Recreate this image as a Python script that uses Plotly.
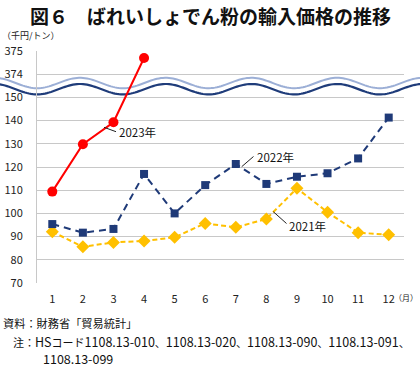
import math
import plotly.graph_objects as go

# ---------------- data ----------------
months = list(range(1, 13))
month_labels = [str(m) for m in months]
y2021 = [92.1, 85.6, 87.5, 88.1, 89.7, 95.7, 94.0, 97.6, 110.8, 100.5, 91.7, 90.8]
y2022 = [95.4, 91.7, 93.3, 117.0, 100.0, 112.2, 121.3, 112.7, 115.8, 117.3, 123.7, 141.3]
y2023 = [109.4, 129.8, 139.3, 374.7]
y_tick_values = [70, 80, 90, 100, 110, 120, 130, 140, 150, 374, 375]
y_tick_labels = ["70", "80", "90", "100", "110", "120", "130", "140", "150", "374", "375"]
hs_codes = ["1108.13-010", "1108.13-020", "1108.13-090", "1108.13-091", "1108.13-099"]

# ---------------- layout geometry ----------------
FW, FH = 420, 368
L, R, T, B = 37, 16, 51, 85
PW = FW - L - R
PH = FH - T - B


def to_pos(v):
    """Broken axis: 70..150 linear, then 374..375 above the break."""
    if v <= 150:
        return (v - 70) / 10.0
    return 9 + (v - 374)


def px(x):
    return (x - L) / PW


def py(y):
    return (FH - B - y) / PH


fig = go.Figure()

fig.add_trace(go.Scatter(
    x=months, y=[to_pos(v) for v in y2021], mode="lines+markers",
    line=dict(color="#FFC000", width=2, dash="5px,3px"),
    marker=dict(symbol="diamond", size=10, color="#FFC000"),
    name="2021年", hoverinfo="skip"))
fig.add_trace(go.Scatter(
    x=months, y=[to_pos(v) for v in y2022], mode="lines+markers",
    line=dict(color="#1F3A78", width=2, dash="7px,5px"),
    marker=dict(symbol="square", size=8, color="#1F3A78"),
    name="2022年", hoverinfo="skip"))
fig.add_trace(go.Scatter(
    x=months[:len(y2023)], y=[to_pos(v) for v in y2023], mode="lines+markers",
    line=dict(color="#FF0000", width=2),
    marker=dict(symbol="circle", size=10, color="#FF0000"),
    name="2023年", hoverinfo="skip"))

# ---------------- break wave ----------------
P = 85.7
A = 5.2
def wave_pts(center):
    pts = []
    x = -5.0
    while x <= FW + 5:
        y = center - A * math.cos(2 * math.pi * (x - 80) / P)
        pts.append((x, y))
        x += 2.0
    return pts

light = wave_pts(83.0)
dark = wave_pts(89.2)

def path_of(pts):
    return "M " + " L ".join(f"{px(a):.5f},{py(b):.5f}" for a, b in pts)

band = path_of(light) + " L " + " L ".join(
    f"{px(a):.5f},{py(b):.5f}" for a, b in reversed(dark)) + " Z"

shapes = [
    dict(type="path", path=band, xref="paper", yref="paper",
         fillcolor="white", line=dict(width=0), layer="below"),
    dict(type="path", path=path_of(light), xref="paper", yref="paper",
         line=dict(color="#9CAFD6", width=2), layer="below"),
    dict(type="path", path=path_of(dark), xref="paper", yref="paper",
         line=dict(color="#1F3C7A", width=2.2), layer="below"),
]

# leader lines for series labels
for (x0, y0, x1, y1) in [(104, 127.3, 116, 131.7),
                         (241.7, 166.7, 253.5, 156.5),
                         (273.3, 211.7, 286.5, 223.5)]:
    shapes.append(dict(type="line", xref="paper", yref="paper",
                       x0=px(x0), y0=py(y0), x1=px(x1), y1=py(y1),
                       line=dict(color="#222222", width=1)))

JP = "Noto Sans CJK JP"


def num(s):
    return f"<span style='font-size:12.5px'>{s}</span>"


note1 = ("注：" + num("HS") + "コード" +
         "、".join(num(c) for c in hs_codes[:4]) + "、")
note2 = num(hs_codes[4])

annotations = [
    dict(text="<b>図６　ばれいしょでん粉の輸入価格の推移</b>", x=px(210), y=py(15.5),
         xref="paper", yref="paper", showarrow=False, xanchor="center", yanchor="middle",
         font=dict(family=JP, size=19, color="#111111")),
    dict(text="（千円/トン）", x=px(0), y=py(36), xref="paper", yref="paper",
         showarrow=False, xanchor="left", yanchor="middle",
         font=dict(family=JP, size=9, color="#222222")),
    dict(text="（月）", x=px(420), y=py(297), xref="paper", yref="paper",
         showarrow=False, xanchor="right", yanchor="middle",
         font=dict(family=JP, size=8, color="#222222")),
    dict(text="2023年", x=px(117), y=py(131.5), xref="paper", yref="paper",
         showarrow=False, xanchor="left", yanchor="middle",
         font=dict(family=JP, size=11.5, color="#111111")),
    dict(text="2022年", x=px(255), y=py(156.5), xref="paper", yref="paper",
         showarrow=False, xanchor="left", yanchor="middle",
         font=dict(family=JP, size=11.5, color="#111111")),
    dict(text="2021年", x=px(287), y=py(226), xref="paper", yref="paper",
         showarrow=False, xanchor="left", yanchor="middle",
         font=dict(family=JP, size=11.5, color="#111111")),
    dict(text="資料：財務省「貿易統計」", x=px(1), y=py(323), xref="paper", yref="paper",
         showarrow=False, xanchor="left", yanchor="middle",
         font=dict(family=JP, size=11.2, color="#111111")),
    dict(text=note1, x=px(11), y=py(341.5), xref="paper", yref="paper",
         showarrow=False, xanchor="left", yanchor="middle",
         font=dict(family=JP, size=11, color="#111111")),
    dict(text=note2, x=px(41), y=py(358.5), xref="paper", yref="paper",
         showarrow=False, xanchor="left", yanchor="middle",
         font=dict(family=JP, size=11, color="#111111")),
]

fig.update_layout(
    template="none",
    width=FW, height=FH,
    margin=dict(l=L, r=R, t=T, b=B, pad=0),
    paper_bgcolor="white", plot_bgcolor="rgba(0,0,0,0)",
    showlegend=False,
    shapes=shapes, annotations=annotations,
    font=dict(family=JP, size=11, color="#222222"),
)
fig.update_xaxes(
    range=[0.5, 12.5], tickvals=months, ticktext=month_labels,
    showgrid=False, zeroline=False, showline=False, ticks="",
    automargin=False,
    ticklabelstandoff=8, tickfont=dict(family=JP, size=11, color="#222222"),
    fixedrange=True)
fig.update_yaxes(
    range=[0, 10], tickvals=[to_pos(v) for v in y_tick_values], ticktext=y_tick_labels,
    showgrid=True, gridcolor="#C8C8C8", gridwidth=1, zeroline=False,
    showline=True, linecolor="#C8C8C8", linewidth=1, ticks="",
    automargin=False,
    ticklabelstandoff=11, tickfont=dict(family=JP, size=11, color="#222222"),
    fixedrange=True)

fig.write_html(
    "out.html",
    config={"displayModeBar": False},
    post_script=("document.body.style.margin='0px';"
                 "document.body.style.padding='0px';"
                 "document.documentElement.style.overflow='hidden';"
                 "document.body.style.overflow='hidden';"),
)
